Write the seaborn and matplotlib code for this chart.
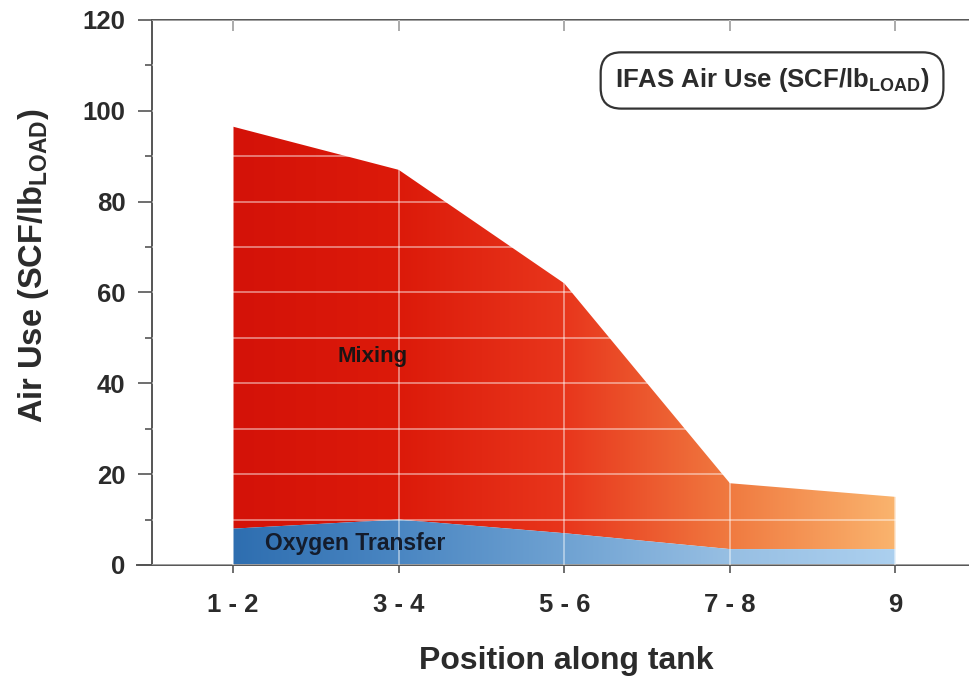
import numpy as np
import matplotlib
matplotlib.use("Agg")
import matplotlib.pyplot as plt
from matplotlib.ticker import MultipleLocator
import seaborn as sns

# Air use per tank position, split into the two demands (stacked)
positions = ["1 - 2", "3 - 4", "5 - 6", "7 - 8", "9"]
oxygen_transfer = [8.0, 10.0, 7.0, 3.5, 3.5]
mixing = [88.5, 77.0, 55.0, 14.5, 11.5]

# Colour ramps along the tank (one stop per position)
mixing_colors = ["#d41208", "#dc1a0a", "#e8361c", "#f07a40", "#fab46e"]
oxygen_colors = ["#2e6eb0", "#4a86c2", "#6fa2d2", "#97bfe3", "#acd0ef"]

sns.set_theme(style="ticks")
plt.rcParams["font.family"] = ["Liberation Sans", "DejaVu Sans"]
plt.rcParams["font.weight"] = "bold"
plt.rcParams["mathtext.fontset"] = "custom"
plt.rcParams["mathtext.rm"] = "Liberation Sans:bold"
plt.rcParams["mathtext.it"] = "Liberation Sans:bold"
plt.rcParams["mathtext.bf"] = "Liberation Sans:bold"

ink = "#2b2b2b"
x = np.arange(len(positions))
oxy = np.array(oxygen_transfer)
total = oxy + np.array(mixing)

fig = plt.figure(figsize=(9.7, 6.84), dpi=100)
ax = fig.add_axes([0.1567, 0.174, 0.8433, 0.7968])
ax.set_facecolor("white")
fig.patch.set_facecolor("white")


def gradient_area(lower, upper, stops):
    """Fill between two curves with a left-to-right colour ramp."""
    poly = ax.fill_between(x, lower, upper, facecolor="none", edgecolor="none")
    rgb = np.array([matplotlib.colors.to_rgb(c) for c in stops])
    xs = np.linspace(x[0], x[-1], 400)
    ramp = np.stack([np.interp(xs, x, rgb[:, k]) for k in range(3)], axis=-1)
    img = np.repeat(ramp[np.newaxis, :, :], 2, axis=0)
    im = ax.imshow(img, extent=[x[0], x[-1], 0, float(np.max(upper))],
                   origin="lower", aspect="auto", interpolation="bilinear",
                   zorder=1)
    im.set_clip_path(poly.get_paths()[0], transform=ax.transData)


gradient_area(oxy, total, mixing_colors)
gradient_area(np.zeros_like(oxy), oxy, oxygen_colors)

ax.set_xlim(-0.49, 4.45)
ax.set_ylim(0, 120)
ax.set_xticks(x)
ax.set_xticklabels(positions)
ax.yaxis.set_major_locator(MultipleLocator(20))
ax.yaxis.set_minor_locator(MultipleLocator(10))

# faint white grid that shows only over the filled areas
ax.set_axisbelow(False)
ax.grid(axis="y", which="both", color="white", alpha=0.55, linewidth=1.1)
ax.grid(axis="x", which="major", color="white", alpha=0.55, linewidth=1.1)

ax.tick_params(axis="y", which="major", direction="out", length=10, width=1.2,
               color="#555555", labelsize=18.5, labelcolor=ink, pad=9)
ax.tick_params(axis="y", which="minor", direction="out", length=5, width=1.2,
               color="#555555")
ax.tick_params(axis="x", which="major", direction="out", length=6, width=1.2,
               color="#555555", labelsize=18.5, labelcolor=ink, pad=14)

for side in ("left", "bottom"):
    ax.spines[side].set_color("#555555")
    ax.spines[side].set_linewidth(1.4)
ax.spines["right"].set_visible(False)
ax.spines["top"].set_visible(False)
ax.spines["bottom"].set_bounds(-0.49 - 15 / 165.5, 4.45)

top = ax.secondary_xaxis("top")
top.set_xticks(x)
top.set_xticklabels([])
top.tick_params(direction="in", length=8, width=1.2, color="#555555")
top.spines["top"].set_color("#555555")
top.spines["top"].set_linewidth(1.4)

ax.set_xlabel("Position along tank", fontsize=23, fontweight="bold", color=ink)
ax.set_ylabel(r"Air Use (SCF/lb$_{\mathrm{LOAD}}$)", fontsize=23.5,
              fontweight="bold", color=ink)
ax.xaxis.set_label_coords(0.507, -0.148)
ax.yaxis.set_label_coords(-0.124, 0.55)

ax.text(0.84, 46, "Mixing", fontsize=16, fontweight="bold", color="#1c1414",
        ha="center", va="center", zorder=5)
ax.text(0.74, 4.8, "Oxygen Transfer", fontsize=16.5, fontweight="bold",
        color="#141c2c", ha="center", va="center", zorder=5)

ax.text(0.758, 0.889, r"IFAS Air Use (SCF/lb$_{\mathrm{LOAD}}$)",
        transform=ax.transAxes, fontsize=18.5, fontweight="bold", color=ink,
        ha="center", va="center", zorder=6,
        bbox=dict(boxstyle="round,pad=0.55,rounding_size=0.8", facecolor="white",
                  edgecolor="#333333", linewidth=1.6))

fig.savefig("out.png", dpi=100, facecolor="white")
